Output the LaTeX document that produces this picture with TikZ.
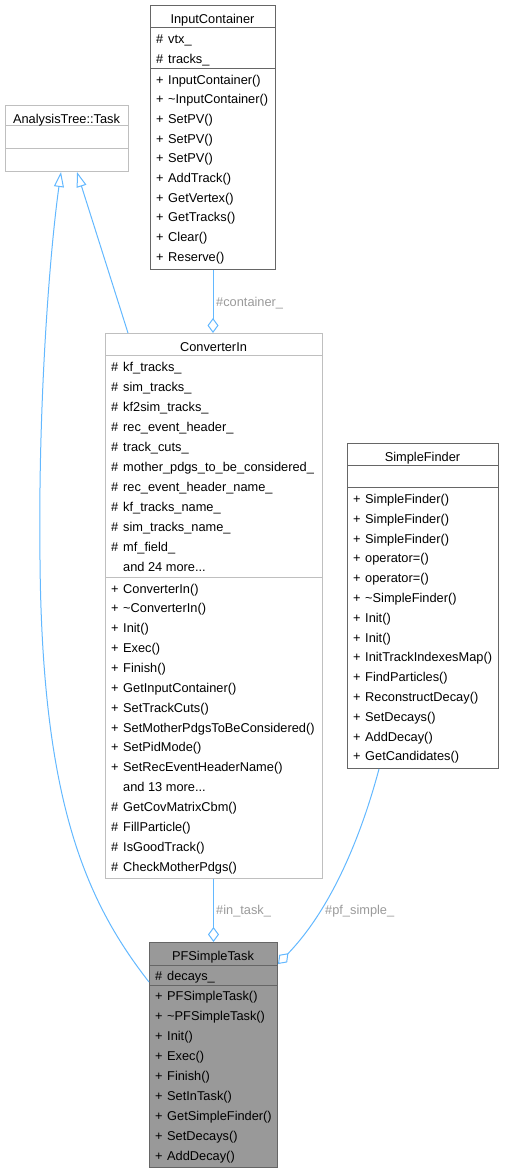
\documentclass[tikz,border=0pt]{standalone}
\usepackage{fontspec}
\setmainfont{Liberation Sans}
\usetikzlibrary{arrows.meta,calc}
\definecolor{lightborder}{HTML}{BFBFBF}
\definecolor{darkborder}{HTML}{666666}
\definecolor{edgeblue}{HTML}{63B8FF}
\definecolor{lblgray}{HTML}{9A9A9A}
\definecolor{pffill}{HTML}{999999}
\newcommand\fs{\fontsize{12.8}{15}\selectfont}
\newcommand\mdots{...}
\newcommand\mrows[5]{%
  \foreach \s/\t [count=\i] in {#5} {
    \node[txt] (#1\i) at ({#2+6}, {#3+(\i-1)*#4}) {\makebox[12pt][l]{\s}\t};
  }}
\tikzset{
  txt/.style={font=\fs, inner sep=0pt, anchor=base west, text=black},
  ttl/.style={font=\fs, inner sep=0pt, anchor=base, text=black},
  boxl/.style={draw=lightborder, line width=1pt, fill=white, inner sep=0pt, anchor=north west},
  boxd/.style={draw=darkborder, line width=1pt, fill=white, inner sep=0pt, anchor=north west},
  divl/.style={draw=lightborder, line width=1pt},
  divd/.style={draw=darkborder, line width=1pt},
  edge/.style={draw=edgeblue, line width=1pt},
  inh/.style={edge, -{Triangle[open, fill=white, length=15pt, width=10pt]}},
  agg/.style={edge, -{Diamond[open, fill=white, length=15pt, width=11pt]}},
  lbl/.style={font=\fs, text=lblgray, inner sep=0pt, anchor=west},
}
\begin{document}
\begin{tikzpicture}[x=1pt,y=-1pt]
\useasboundingbox (0,0) rectangle (504,1173);

% AnalysisTree::Task
\node[boxl, minimum width=123pt, minimum height=66pt] (task) at (5,105) {};
\draw[divl] (5,125) -- (128,125);
\draw[divl] (5,148) -- (128,148);
\node[ttl] (tasktitle) at (66.5,123.5) {AnalysisTree::Task};

% InputContainer
\node[boxd, minimum width=125pt, minimum height=264pt] (ic) at (150,5) {};
\draw[divd] (150,27) -- (275,27);
\draw[divd] (150,68) -- (275,68);
\node[ttl] (ictitle) at (212.5,23.5) {InputContainer};
\mrows{ica}{150}{43}{20}{\#/vtx\_, \#/tracks\_}
\mrows{icm}{150}{84}{19.7}{+/InputContainer(), +/\textasciitilde InputContainer(), +/SetPV(), +/SetPV(), +/SetPV(), +/AddTrack(), +/GetVertex(), +/GetTracks(), +/Clear(), +/Reserve()}

% ConverterIn
\node[boxl, minimum width=217pt, minimum height=545pt] (cin) at (105,333) {};
\draw[divl] (105,355) -- (322,355);
\draw[divl] (105,577) -- (322,577);
\node[ttl] (cintitle) at (213.5,351.5) {ConverterIn};
\mrows{cina}{105}{371}{20}{\#/kf\_tracks\_, \#/sim\_tracks\_, \#/kf2sim\_tracks\_, \#/rec\_event\_header\_, \#/track\_cuts\_, \#/mother\_pdgs\_to\_be\_considered\_, \#/rec\_event\_header\_name\_, \#/kf\_tracks\_name\_, \#/sim\_tracks\_name\_, \#/mf\_field\_, {}/and 24 more\mdots}
\mrows{cinm}{105}{593}{19.86}{+/ConverterIn(), +/\textasciitilde ConverterIn(), +/Init(), +/Exec(), +/Finish(), +/GetInputContainer(), +/SetTrackCuts(), +/SetMotherPdgsToBeConsidered(), +/SetPidMode(), +/SetRecEventHeaderName(), {}/and 13 more\mdots, \#/GetCovMatrixCbm(), \#/FillParticle(), \#/IsGoodTrack(), \#/CheckMotherPdgs()}

% SimpleFinder
\node[boxd, minimum width=151pt, minimum height=325pt] (sf) at (347,443) {};
\draw[divd] (347,465) -- (498,465);
\draw[divd] (347,487) -- (498,487);
\node[ttl] (sftitle) at (422.5,461.5) {SimpleFinder};
\mrows{sfm}{347}{503.5}{19.8}{+/SimpleFinder(), +/SimpleFinder(), +/SimpleFinder(), +/operator=(), +/operator=(), +/\textasciitilde SimpleFinder(), +/Init(), +/Init(), +/InitTrackIndexesMap(), +/FindParticles(), +/ReconstructDecay(), +/SetDecays(), +/AddDecay(), +/GetCandidates()}

% PFSimpleTask
\node[boxd, fill=pffill, minimum width=128pt, minimum height=225pt] (pf) at (149,942) {};
\draw[divd] (149,965) -- (277,965);
\draw[divd] (149,985) -- (277,985);
\node[ttl] (pftitle) at (213,960.5) {PFSimpleTask};
\mrows{pfa}{149}{980.5}{20}{\#/decays\_}
\mrows{pfm}{149}{1000.5}{20}{+/PFSimpleTask(), +/\textasciitilde PFSimpleTask(), +/Init(), +/Exec(), +/Finish(), +/SetInTask(), +/GetSimpleFinder(), +/SetDecays(), +/AddDecay()}

% connectors
\draw[inh] ($(pf.north west)+(0,40)$) .. controls (85,900) and (42,800) .. (40,560)
  .. controls (38,400) and (50,250) .. ($(task.south west)+(56,0)$);
\draw[inh] ($(cin.north west)+(23,0)$) -- ($(task.south west)+(72,0)$);
\draw[agg] (ic.south) -- (ic.south |- cin.north);
\node[lbl] (lcontainer) at (216,303) {\#container\_};
\draw[agg] (cin.south -| pf.north) -- (pf.north);
\node[lbl] (lintask) at (216,911.5) {\#in\_task\_};
\draw[agg] ($(sf.south west)+(32,0)$) .. controls (360,840) and (330,910) .. ($(pf.north east)+(0,22)$);
\node[lbl] (lpfsimple) at (325,911.5) {\#pf\_simple\_};
\end{tikzpicture}
\end{document}
